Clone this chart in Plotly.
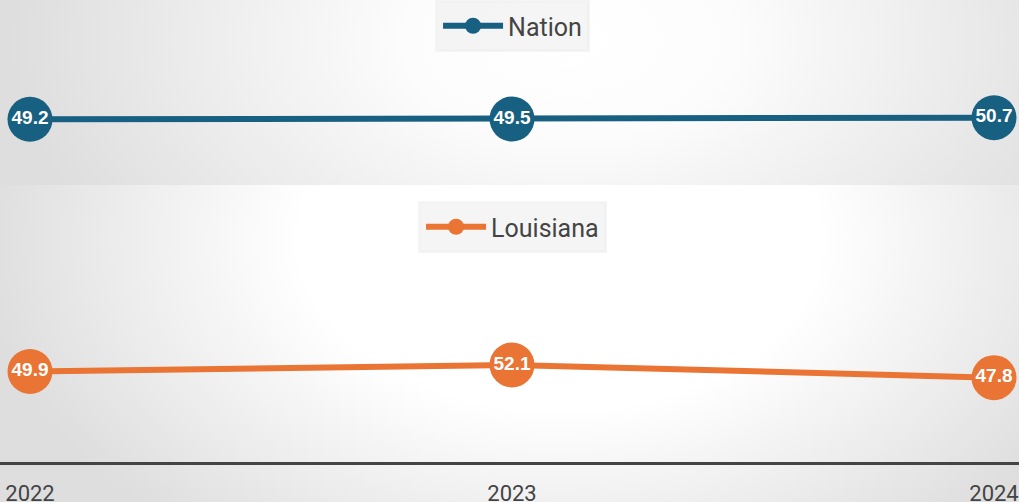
import base64
import plotly.graph_objects as go

years = [2022, 2023, 2024]
year_labels = ["2022", "2023", "2024"]
nation = [49.2, 49.5, 50.7]
louisiana = [49.9, 52.1, 47.8]

NATION_COLOR = "#176081"
LA_COLOR = "#e97434"

W, H = 1019, 502
TOP_H = 185

svg = f"""<svg xmlns='http://www.w3.org/2000/svg' width='{W}' height='{H}' viewBox='0 0 {W} {H}' preserveAspectRatio='none'>
<defs>
<radialGradient id='g1' gradientUnits='userSpaceOnUse' cx='0' cy='0' r='1' gradientTransform='translate(570 40) scale(560 330)'>
<stop offset='0' stop-color='#ffffff'/>
<stop offset='0.3' stop-color='#fcfcfc'/>
<stop offset='1' stop-color='#dedede'/>
</radialGradient>
<radialGradient id='g2' gradientUnits='userSpaceOnUse' cx='0' cy='0' r='1' gradientTransform='translate(560 240) scale(580 380)'>
<stop offset='0' stop-color='#ffffff'/>
<stop offset='0.45' stop-color='#ffffff'/>
<stop offset='1' stop-color='#dedede'/>
</radialGradient>
</defs>
<rect x='0' y='0' width='{W}' height='{TOP_H}' fill='url(#g1)'/>
<rect x='0' y='{TOP_H}' width='{W}' height='{H - TOP_H}' fill='url(#g2)'/>
</svg>"""
bg_uri = "data:image/svg+xml;base64," + base64.b64encode(svg.encode()).decode()

label_font = dict(family="Liberation Sans, Arial, sans-serif", size=19, color="white")

fig = go.Figure()
fig.add_trace(go.Scatter(
    x=years, y=nation, name="Nation", mode="lines+markers+text",
    line=dict(color=NATION_COLOR, width=6),
    marker=dict(color=NATION_COLOR, size=45),
    text=[f"{v:.1f}" for v in nation], textposition="middle center",
    texttemplate="<b>%{text}</b>", textfont=label_font,
    cliponaxis=False, xaxis="x", yaxis="y", legend="legend",
))
fig.add_trace(go.Scatter(
    x=years, y=louisiana, name="Louisiana", mode="lines+markers+text",
    line=dict(color=LA_COLOR, width=6),
    marker=dict(color=LA_COLOR, size=45),
    text=[f"{v:.1f}" for v in louisiana], textposition="middle center",
    texttemplate="<b>%{text}</b>", textfont=label_font,
    cliponaxis=False, xaxis="x2", yaxis="y2", legend="legend2",
))

xr = [2022 - 30 / 482, 2024 + 25 / 482]
top_dom = [1 - TOP_H / H, 1]
bot_dom = [40 / H, 1 - TOP_H / H]

legend_common = dict(
    orientation="h", xanchor="center", yanchor="top",
    bgcolor="rgba(238,238,238,0.6)", bordercolor="rgba(238,238,238,0.6)",
    borderwidth=3,
    font=dict(family="Roboto, sans-serif", size=25, color="#444444"),
    itemwidth=60,
)

fig.update_layout(
    width=W, height=H,
    margin=dict(l=0, r=0, t=0, b=0, autoexpand=False),
    paper_bgcolor="#eeeeee",
    plot_bgcolor="rgba(0,0,0,0)",
    showlegend=True,
    images=[dict(source=bg_uri, xref="paper", yref="paper", x=0, y=1,
                 sizex=1, sizey=1, sizing="stretch", layer="below",
                 xanchor="left", yanchor="top")],
    xaxis=dict(domain=[0, 1], range=xr, anchor="y", showgrid=False,
               zeroline=False, showticklabels=False, showline=False,
               automargin=False),
    yaxis=dict(domain=top_dom, range=[-12.2, 160.7], showgrid=False,
               zeroline=False, showticklabels=False, showline=False,
               automargin=False),
    xaxis2=dict(domain=[0, 1], range=xr, anchor="y2", showgrid=False,
                zeroline=False, showline=True, linecolor="#444444", linewidth=3,
                tickmode="array", tickvals=years, ticktext=year_labels,
                ticks="", ticklabelstandoff=10, automargin=False,
                ticklabeloverflow="allow",
                tickfont=dict(family="Roboto, sans-serif",
                              size=22, color="#444444")),
    yaxis2=dict(domain=bot_dom, range=[19.2, 113.1], showgrid=False,
                zeroline=False, showticklabels=False, showline=False,
                automargin=False),
    legend=dict(x=0.503, y=1, **legend_common),
    legend2=dict(x=0.503, y=1 - 201 / H, **legend_common),
)

fig.write_html(
    "out.html",
    config={"displayModeBar": False},
    post_script="document.body.style.margin='0';document.body.style.overflow='hidden';",
)
